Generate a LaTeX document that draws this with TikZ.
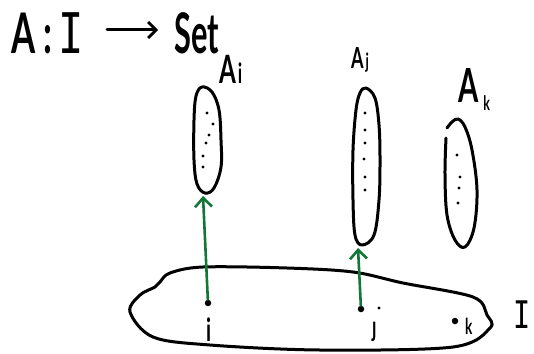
\documentclass[tikz,border=0pt]{standalone}
\usepackage{fontspec}
\setmainfont{Lato}
\newfontfamily\hand[FakeStretch=0.62]{Lato}
\newfontfamily\handnarrow[FakeStretch=0.55]{Lato}
\newfontfamily\handmono[FakeStretch=0.75]{DejaVu Sans Mono}
\usetikzlibrary{arrows.meta}
\definecolor{handgreen}{RGB}{18,118,55}
\tikzset{
  stroke/.style={line width=3pt, line cap=round, line join=round},
  elemdot/.style={circle, fill, inner sep=0pt, minimum size=3.2pt},
  bigdot/.style={circle, fill, inner sep=0pt, minimum size=6.5pt},
  mapsto/.style={handgreen, line width=2.6pt, line cap=round, -{Straight Barb[length=9pt,width=17pt,line width=2.6pt]}},
  lbl/.style={inner sep=0pt, anchor=base west},
}
\newcommand{\fs}[1]{\fontsize{#1}{#1}\selectfont}
\begin{document}
\begin{tikzpicture}[x=1pt,y=-1pt]
\useasboundingbox (0,0) rectangle (534,353);
% title
\node[lbl, font=\hand\bfseries\fs{56}] (tA) at (11,53) {A};
\node[lbl, font=\hand\bfseries\fs{56}] (tc) at (43,53) {:};
\node[lbl, font=\handmono\fs{56}] (tI) at (58,53) {I};
\node[lbl, font=\handnarrow\bfseries\fs{56}] (tSet) at (174,53) {Set};
\coordinate (arrS) at (107,30);
\coordinate (arrE) at (158,30);
\draw[stroke, -{Straight Barb[length=8pt,width=16pt,line width=2.8pt]}] (arrS) -- (arrE);

% set labels
\node[lbl, font=\hand\bfseries\fs{39}] (Ai) at (219,83) {A\hspace{2pt}{\fs{28}i}};
\node[lbl, font=\hand\bfseries\fs{29}] (Aj) at (351,68) {A\hspace{2pt}{\fs{21}j}};
\node[lbl, font=\hand\bfseries\fs{47}] (Ak) at (458,102) {A\hspace{5pt}\raisebox{-8pt}{\fs{20}k}};

% fibre A_i
\draw[stroke] plot[smooth cycle, tension=0.6] coordinates {(202,87) (212,92) (219,110) (221,140) (221,167) (214,188) (205,193) (197,184) (194,160) (194,120) (196,96)};
\foreach \p in {(207,113),(213,124),(209,135),(206,143),(203,156),(203,167)} \node[elemdot] at \p {};
\coordinate (Aibot) at (203,196);

% fibre A_j
\draw[stroke] plot[smooth cycle, tension=0.6] coordinates {(366,88) (375,98) (379,125) (380,160) (379,200) (374,235) (362,245) (355,235) (353,200) (353,150) (356,110) (360,93)};
\foreach \p in {(365,113),(365,130),(365,143),(364,159),(365,177),(365,190)} \node[elemdot] at \p {};
\coordinate (Ajbot) at (358,248);

% fibre A_k
\draw[stroke] plot[smooth, tension=0.6] coordinates {(447,128) (452,122) (458,119) (465,127) (472,150) (477,190) (474,228) (465,247) (455,240) (447,215) (445,175) (446,138)};
\foreach \p in {(457,155),(460,177),(459,188),(458,203)} \node[elemdot] at \p {};

% index set I
\draw[stroke] plot[smooth cycle, tension=0.55] coordinates {(130,312) (140,295) (155,287) (160,282) (170,273) (203,267) (287,268) (353,272) (403,283) (473,297) (487,315) (490,328) (453,347) (320,350) (210,345) (153,337)};
\node[bigdot] (i) at (208,303) {};
\node[bigdot] (j) at (361,309) {};
\node[elemdot] (jd) at (379,308) {};
\node[bigdot] (k) at (455,321) {};
\node[lbl, font=\hand\bfseries\fs{32}] (il) at (206,341) {i};
\node[lbl, font=\hand\bfseries\fs{28}] (jl) at (372,336) {ȷ};
\node[lbl, font=\hand\bfseries\fs{22}] (kl) at (465,334) {k};
\node[lbl, font=\handmono\fs{38}] (Il) at (513,328) {I};

% maps
\draw[mapsto] (i) -- (Aibot);
\draw[mapsto] (j) -- (Ajbot);
\end{tikzpicture}
\end{document}
